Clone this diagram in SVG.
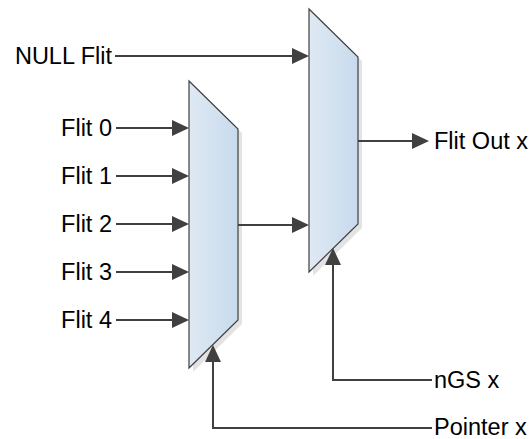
<svg xmlns="http://www.w3.org/2000/svg" width="531" height="439" viewBox="0 0 531 439">
<style>
  .lbl { font-family: "Liberation Sans", Arial, sans-serif; font-size: 23.5px; fill: #000; }
  .mux { fill: url(#muxGrad); stroke: #404040; stroke-width: 1.2; }
  .shadow { fill: #e3e3e3; stroke: none; }
  .wire { fill: none; stroke: #404040; stroke-width: 2; }
  .arr { marker-end: url(#ah); }
</style>
<defs>
  <linearGradient id="muxGrad" x1="0" y1="0" x2="1" y2="0">
    <stop offset="0" stop-color="#dfe9f4"/>
    <stop offset="1" stop-color="#c7daec"/>
  </linearGradient>
  <marker id="ah" markerUnits="userSpaceOnUse" markerWidth="19" markerHeight="18" refX="15" refY="8" orient="auto">
    <path d="M0,0 L17,8 L0,16 z" fill="#404040"/>
  </marker>
</defs>

<g id="mux1">
  <polygon class="shadow" points="193,85 242,133 242,324 193,372"/>
  <polygon class="mux" points="189,81 238,129 238,320 189,368"/>
</g>
<g id="mux2">
  <polygon class="shadow" points="313,13 362,61 362,228 313,276"/>
  <polygon class="mux" points="309,9 358,57 358,224 309,272"/>
</g>

<g id="connectors">
  <line class="wire arr" x1="115" y1="56" x2="307" y2="56"/>
  <line class="wire arr" x1="116" y1="128" x2="187" y2="128"/>
  <line class="wire arr" x1="116" y1="176" x2="187" y2="176"/>
  <line class="wire arr" x1="116" y1="224" x2="187" y2="224"/>
  <line class="wire arr" x1="116" y1="272" x2="187" y2="272"/>
  <line class="wire arr" x1="116" y1="320" x2="187" y2="320"/>
  <line class="wire arr" x1="238" y1="225" x2="307" y2="225"/>
  <line class="wire arr" x1="358" y1="141" x2="427" y2="141"/>
  <polyline class="wire arr" points="432,380 333,380 333,250"/>
  <polyline class="wire arr" points="432,428 213,428 213,347"/>
</g>

<g id="labels">
  <text class="lbl" x="112" y="64" text-anchor="end">NULL Flit</text>
  <text class="lbl" x="112" y="136" text-anchor="end">Flit 0</text>
  <text class="lbl" x="112" y="184" text-anchor="end">Flit 1</text>
  <text class="lbl" x="112" y="232" text-anchor="end">Flit 2</text>
  <text class="lbl" x="112" y="280" text-anchor="end">Flit 3</text>
  <text class="lbl" x="112" y="328" text-anchor="end">Flit 4</text>
  <text class="lbl" x="434" y="149">Flit Out x</text>
  <text class="lbl" x="434" y="388">nGS x</text>
  <text class="lbl" x="434" y="435">Pointer x</text>
</g>
</svg>
